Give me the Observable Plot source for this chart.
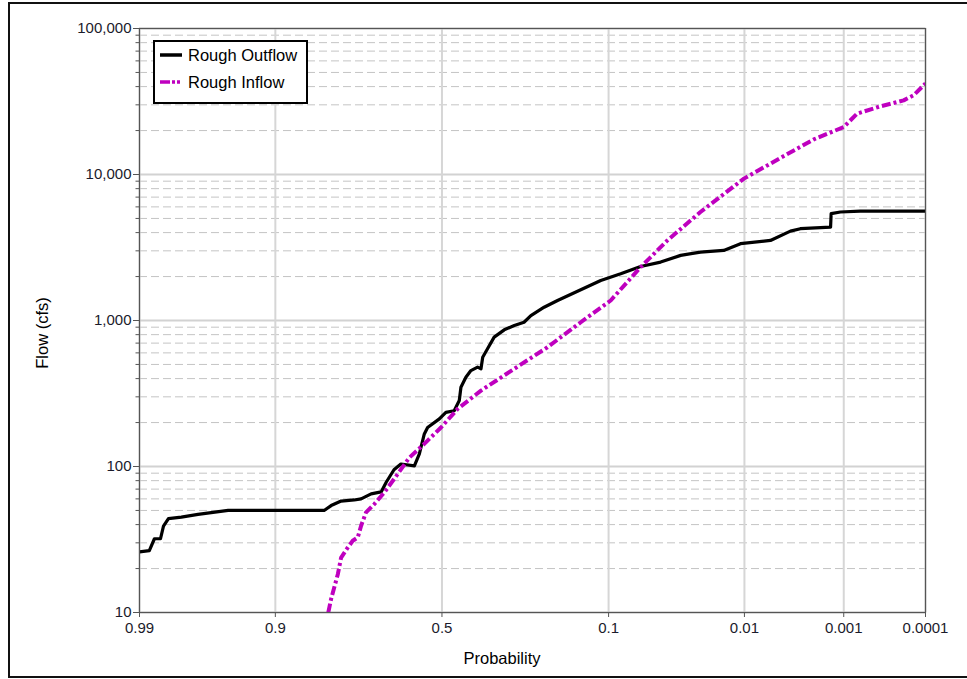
<!DOCTYPE html>
<html>
<head>
<meta charset="utf-8">
<script src="https://cdn.jsdelivr.net/npm/d3@7"></script>
<script src="https://cdn.jsdelivr.net/npm/@observablehq/plot@0.6"></script>
<style>
  html, body { margin: 0; padding: 0; background: #fff; }
  #wrap { position: relative; width: 967px; height: 679px; overflow: hidden; font-family: "Liberation Sans", Arial, sans-serif; }
  #border { position: absolute; left: 8px; top: 2px; width: 980px; height: 672px; border: 2.5px solid #111; box-sizing: content-box; }
  #chart { position: absolute; left: 0; top: 0; }
  #legend { position: absolute; left: 153px; top: 40px; width: 151px; height: 60px; border: 2px solid #000; background: #fff; font-size: 16.5px; color: #000; }
  .item { position: absolute; left: 5px; height: 20px; display: flex; align-items: center; }
  .item span { margin-left: 6px; }
  .title { position: absolute; font-size: 16.5px; color: #000; white-space: nowrap; }
  #xtitle { left: 502px; top: 658px; transform: translate(-50%, -50%); }
  #ytitle { left: 42px; top: 333px; transform: translate(-50%, -50%) rotate(-90deg); }
</style>
</head>
<body>
<div id="wrap">
  <div id="border"></div>
  <div id="chart"></div>
  <div id="legend">
    <div class="item" style="top:3px"><svg width="22" height="6"><line x1="0" y1="3" x2="22" y2="3" stroke="#000" stroke-width="3.5"/></svg><span>Rough Outflow</span></div>
    <div class="item" style="top:30px"><svg width="22" height="6"><line x1="0" y1="3" x2="22" y2="3" stroke="#BF00BF" stroke-width="3.5" stroke-dasharray="10,2,3,2,3,2"/></svg><span>Rough Inflow</span></div>
  </div>
  <div class="title" id="xtitle">Probability</div>
  <div class="title" id="ytitle">Flow (cfs)</div>
</div>
<script>
// Exceedance probabilities and flows (cfs)
const outflowProb = [0.99, 0.9878, 0.9865, 0.9848, 0.9839, 0.9823, 0.9775, 0.9697, 0.950, 0.8176, 0.803, 0.781, 0.750, 0.733, 0.707, 0.680, 0.666, 0.644, 0.624, 0.584, 0.569, 0.554, 0.544, 0.508, 0.488, 0.4625, 0.447, 0.442, 0.427, 0.412, 0.392, 0.382, 0.377, 0.363, 0.344, 0.316, 0.289, 0.264, 0.247, 0.216, 0.187, 0.111, 0.0846, 0.0633, 0.0463, 0.0332, 0.0234, 0.0151, 0.01083, 0.00576, 0.00368, 0.00292, 0.00140, 0.00138, 0.00109, 0.000648, 0.0001];
const outflowFlow = [26, 26.5, 32, 32, 39, 44, 45, 47, 50, 50, 54, 58, 59, 60, 65, 67, 78, 95, 104, 101, 122, 167, 185, 212, 235, 241, 283, 349, 409, 454, 479, 467, 560, 640, 769, 863, 924, 973, 1081, 1233, 1371, 1880, 2089, 2344, 2512, 2793, 2941, 3020, 3357, 3535, 4093, 4254, 4365, 5395, 5537, 5610, 5610];

const inflowProb = [0.809, 0.803, 0.7884, 0.781, 0.7655, 0.7537, 0.7413, 0.733, 0.7204, 0.6985, 0.671, 0.633, 0.599, 0.554, 0.503, 0.452, 0.382, 0.289, 0.2085, 0.1428, 0.0972, 0.0633, 0.0415, 0.0234, 0.0101, 0.0046, 0.00212, 0.001, 0.000704, 0.000373, 0.000192, 0.000143, 0.0001];
const inflowFlow = [10, 12.4, 18.3, 23.8, 27.9, 31, 32.7, 39.3, 48.5, 55.3, 66.5, 89, 115, 143, 185, 248, 331, 467, 656, 973, 1371, 2318, 3535, 5537, 9370, 13000, 17400, 21140, 26100, 29300, 32200, 34900, 42000];

const xTickValues = [0.99, 0.9, 0.5, 0.1, 0.01, 0.001, 0.0001];
const xTickLabels = ["0.99", "0.9", "0.5", "0.1", "0.01", "0.001", "0.0001"];
const yMajorTicks = [10, 100, 1000, 10000, 100000];
const yMinorTicks = [];
for (const dec of [10, 100, 1000, 10000]) for (let k = 2; k <= 9; k++) yMinorTicks.push(dec * k);

// inverse standard normal CDF (Acklam) for the normal-probability axis
function qnorm(p) {
  const a = [-3.969683028665376e+01, 2.209460984245205e+02, -2.759285104469687e+02, 1.383577518672690e+02, -3.066479806614716e+01, 2.506628277459239e+00];
  const b = [-5.447609879822406e+01, 1.615858368580409e+02, -1.556989798598866e+02, 6.680131188771972e+01, -1.328068155288572e+01];
  const c = [-7.784894002430293e-03, -3.223964580411365e-01, -2.400758277161838e+00, -2.549671010342056e+00, 4.374664141464968e+00, 2.938163982698783e+00];
  const d = [7.784695709041462e-03, 3.224671290700398e-01, 2.445134137142996e+00, 3.754408661907416e+00];
  const pl = 0.02425, ph = 1 - pl;
  if (p < pl) { const q = Math.sqrt(-2 * Math.log(p)); return (((((c[0]*q+c[1])*q+c[2])*q+c[3])*q+c[4])*q+c[5]) / ((((d[0]*q+d[1])*q+d[2])*q+d[3])*q+1); }
  if (p <= ph) { const q = p - 0.5, r = q*q; return (((((a[0]*r+a[1])*r+a[2])*r+a[3])*r+a[4])*r+a[5])*q / (((((b[0]*r+b[1])*r+b[2])*r+b[3])*r+b[4])*r+1); }
  const q = Math.sqrt(-2 * Math.log(1 - p)); return -(((((c[0]*q+c[1])*q+c[2])*q+c[3])*q+c[4])*q+c[5]) / ((((d[0]*q+d[1])*q+d[2])*q+d[3])*q+1);
}
const pos = p => -qnorm(p);

const outflow = outflowProb.map((p, i) => ({p, flow: outflowFlow[i]}));
const inflow = inflowProb.map((p, i) => ({p, flow: inflowFlow[i]}));
const xTickPos = xTickValues.map(pos);
const labelOf = new Map(xTickPos.map((z, i) => [z, xTickLabels[i]]));

const chart = Plot.plot({
  width: 967,
  height: 679,
  marginLeft: 139,
  marginRight: 42,
  marginTop: 28,
  marginBottom: 67,
  style: {fontFamily: "'Liberation Sans', Arial, sans-serif", fontSize: "15px", color: "#1b1b2b", background: "transparent"},
  x: {domain: [pos(0.99), pos(0.0001)]},
  y: {type: "log", domain: [10, 100000]},
  marks: [
    Plot.ruleY(yMinorTicks, {stroke: "#c4c4c4", strokeWidth: 1, strokeDasharray: "8,4"}),
    Plot.ruleY(yMajorTicks, {stroke: "#d2d2d2", strokeWidth: 2}),
    Plot.ruleX(xTickPos, {stroke: "#d6d6d6", strokeWidth: 2}),
    Plot.line(outflow, {x: d => pos(d.p), y: "flow", stroke: "#000", strokeWidth: 3.2, curve: "linear", clip: true}),
    Plot.line(inflow, {x: d => pos(d.p), y: "flow", stroke: "#BF00BF", strokeWidth: 4, strokeDasharray: "9,3,3,3", strokeLinecap: "butt", clip: true}),
    Plot.frame({stroke: "#555", strokeWidth: 1.2}),
    Plot.axisX(xTickPos, {tickSize: 5, tickPadding: 5, stroke: "#555", tickFormat: z => labelOf.get(z), label: null, fontSize: 15}),
    Plot.axisY(yMajorTicks, {tickSize: 6, tickPadding: 2, stroke: "#555", tickFormat: d3.format(","), label: null, fontSize: 15}),
    Plot.axisY(yMinorTicks, {tickSize: 3.5, stroke: "#555", tickFormat: () => "", label: null})
  ]
});
document.getElementById("chart").appendChild(chart);
</script>
</body>
</html>
